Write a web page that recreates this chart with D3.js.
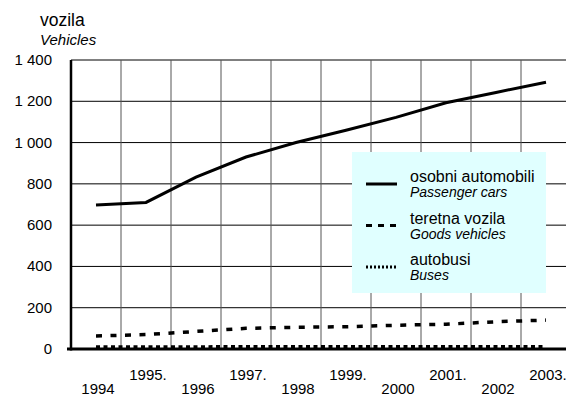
<!DOCTYPE html>
<html><head><meta charset="utf-8">
<script src="https://cdn.jsdelivr.net/npm/d3@7"></script>
<style>body{margin:0;background:#fff}svg{display:block;font-family:"Liberation Sans",Arial,sans-serif}</style>
</head><body><svg id="c" width="566" height="396"></svg>
<script>
const years = ["1994","1995","1996","1997","1998","1999","2000","2001","2002","2003"];
const yearLabels = ["1994","1995.","1996","1997.","1998","1999.","2000","2001.","2002","2003."];
const passengerCars = [698, 710, 833, 930, 1000, 1060, 1122, 1193, 1243, 1292];
const goodsVehicles = [63, 70, 85, 100, 105, 108, 115, 120, 132, 140];
const buses = [10, 10, 10, 11, 11, 11, 11, 11, 11, 11];
const yTicks = [0, 200, 400, 600, 800, 1000, 1200, 1400];
const yTickLabels = ["0","200","400","600","800","1 000","1 200","1 400"];
const legendItems = [
  {sr:"osobni automobili", en:"Passenger cars", dash:null},
  {sr:"teretna vozila", en:"Goods vehicles", dash:"6,6"},
  {sr:"autobusi", en:"Buses", dash:"2,2"}
];
const series = [
  {values: passengerCars, dash:null, width:3},
  {values: goodsVehicles, dash:"6,8.5", width:3.5},
  {values: buses, dash:"4,3.5", width:3.5}
];

const svg = d3.select("#c");
const L = 71, R = 571, T = 60, B = 349;
const x = d3.scaleBand().domain(years).range([L, R]).padding(0);
const y = d3.scaleLinear().domain([0, 1400]).range([B, T]);
const cx = d => x(d) + x.bandwidth()/2;

// horizontal grid
svg.append("g").selectAll("line").data(yTicks).join("line")
  .attr("x1", L).attr("x2", 566).attr("y1", d => y(d)).attr("y2", d => y(d))
  .attr("stroke", "#000").attr("stroke-width", 1);
// vertical grid
svg.append("g").selectAll("line").data(years.slice(1)).join("line")
  .attr("x1", d => x(d)).attr("x2", d => x(d)).attr("y1", T).attr("y2", B)
  .attr("stroke", "#555").attr("stroke-width", 1);

// y tick labels
svg.append("g").selectAll("text").data(yTicks).join("text")
  .attr("x", 52).attr("y", d => y(d) + 5).attr("text-anchor", "end")
  .attr("font-size", 15).text((d,i) => yTickLabels[i]);

// x labels
svg.append("g").selectAll("text").data(years).join("text")
  .attr("x", d => cx(d) + 2).attr("y", (d,i) => i % 2 ? 380 : 394)
  .attr("text-anchor", "middle").attr("font-size", 15)
  .text((d,i) => yearLabels[i]);

// title
svg.append("text").attr("x", 40).attr("y", 26).attr("font-size", 17.5).text("vozila");
svg.append("text").attr("x", 40).attr("y", 45).attr("font-size", 15).attr("font-style", "italic").text("Vehicles");

// legend
const lg = svg.append("g");
lg.append("rect").attr("x", 352).attr("y", 152).attr("width", 194).attr("height", 141).attr("fill", "#e0ffff");
legendItems.forEach((it, i) => {
  const yy = 184 + i*41.5;
  lg.append("line").attr("x1", 366).attr("x2", 397).attr("y1", yy).attr("y2", yy)
    .attr("stroke", "#000").attr("stroke-width", 3).attr("stroke-dasharray", it.dash);
  lg.append("text").attr("x", 410).attr("y", yy - 2).attr("font-size", 16).text(it.sr);
  lg.append("text").attr("x", 410).attr("y", yy + 13).attr("font-size", 14).attr("font-style", "italic").text(it.en);
});

// series lines
const line = d3.line().x((d,i) => cx(years[i])).y(d => y(d));
series.forEach(s => {
  svg.append("path").datum(s.values).attr("d", line).attr("fill", "none")
    .attr("stroke", "#000").attr("stroke-width", s.width)
    .attr("stroke-dasharray", s.dash);
});

// axes
svg.append("line").attr("x1", L).attr("x2", L).attr("y1", T).attr("y2", B + 1.5)
  .attr("stroke", "#000").attr("stroke-width", 2.5);
svg.append("line").attr("x1", 67).attr("x2", 566).attr("y1", B).attr("y2", B)
  .attr("stroke", "#000").attr("stroke-width", 3);
</script></body></html>
